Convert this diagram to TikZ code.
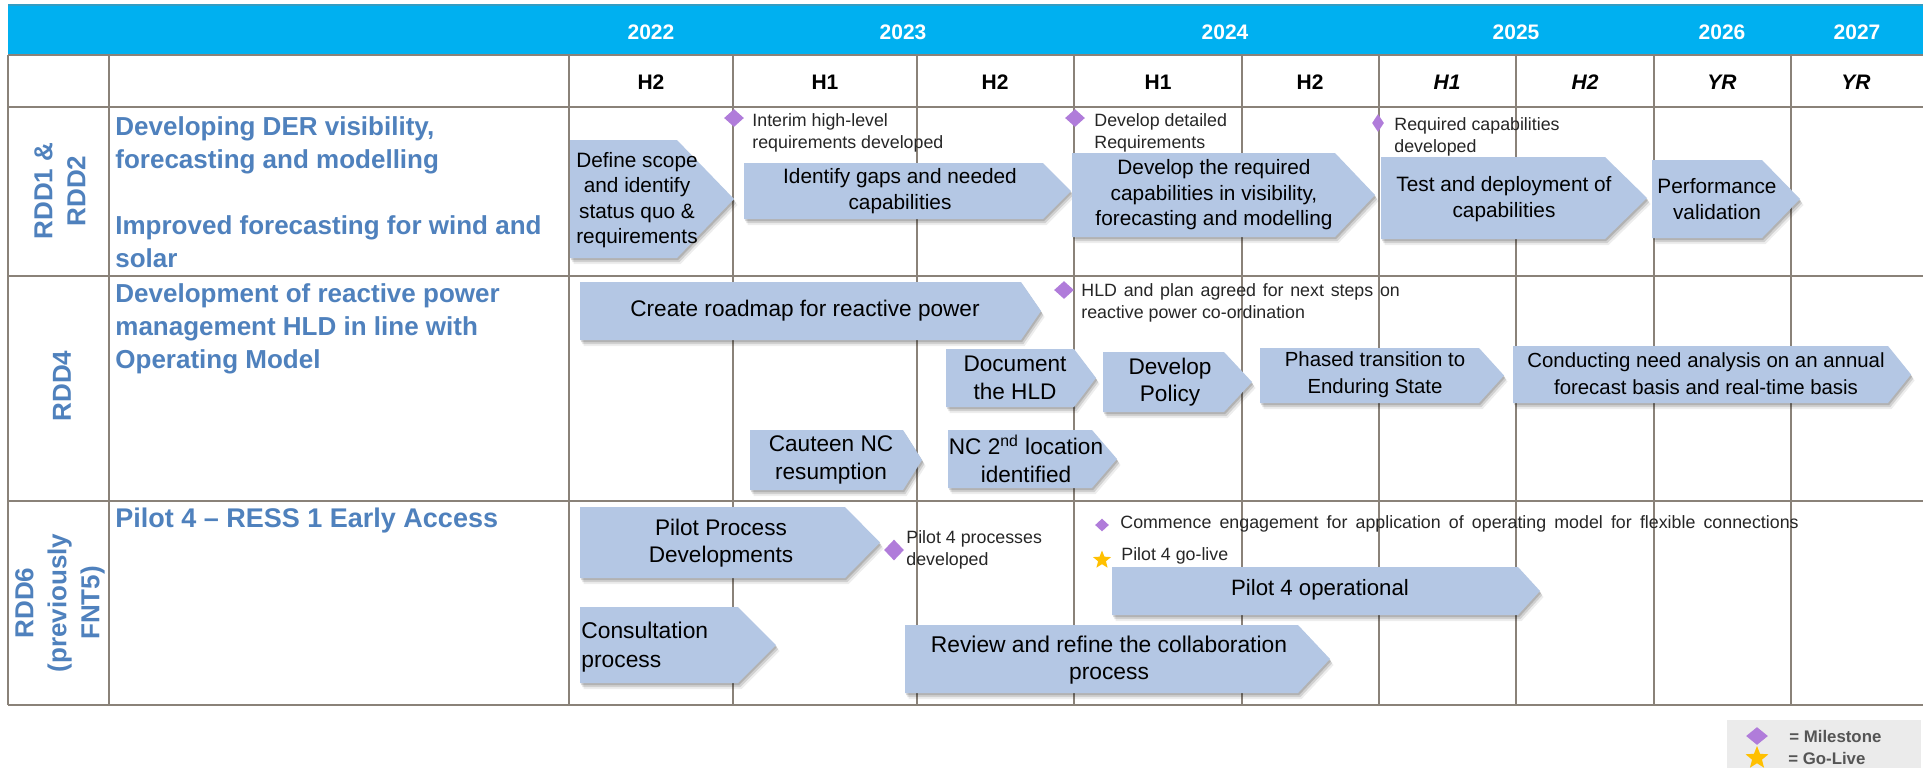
\documentclass[tikz,border=0pt]{standalone}
\usepackage{fontspec}
\setmainfont{Liberation Sans}
\usetikzlibrary{shapes.geometric}
\definecolor{hdr}{HTML}{00B0F0}
\definecolor{gridc}{HTML}{8A8279}
\definecolor{ttl}{HTML}{4F81BD}
\definecolor{chevc}{HTML}{B4C7E4}
\definecolor{mile}{HTML}{B07CDA}
\definecolor{gold}{HTML}{FFC000}
\definecolor{legbg}{HTML}{EBEBEB}
\definecolor{legtx}{HTML}{555555}
% #1 left, #2 top, #3 end of straight part, #4 bottom, #5 tip
\newcommand{\chevshape}[5]{%
  \foreach \d/\o in {2/0.14,4/0.12,6/0.07}{%
    \fill[black,opacity=\o] ({#1+\d*0.6},{#2+\d}) -- ({#3+\d*0.6},{#2+\d}) -- ({#5+\d*0.6},{(#2+#4)/2+\d}) -- ({#3+\d*0.6},{#4+\d}) -- ({#1+\d*0.6},{#4+\d}) -- cycle;}
  \fill[chevc] (#1,#2) -- (#3,#2) -- (#5,{(#2+#4)/2}) -- (#3,#4) -- (#1,#4) -- cycle;
}
\begin{document}
\begin{tikzpicture}[x=0.5pt,y=-0.5pt,
  gridline/.style={draw=gridc, line width=1.3pt},
  chevtext/.style={align=center, inner sep=0pt, font=\fontsize{10.4}{12.7}\selectfont, text=black},
  big/.style={font=\fontsize{11.3}{13.8}\selectfont},
  mtext/.style={align=left, inner sep=0pt, anchor=west, font=\fontsize{8.9}{11}\selectfont, text=black!85},
  mstone/.style={diamond, fill=mile, inner sep=0pt, minimum width=10pt, minimum height=9pt},
  golive/.style={star, star points=5, star point ratio=2.3, fill=gold, inner sep=0pt, minimum size=9.5pt},
  yrlbl/.style={font=\bfseries\fontsize{10.5}{12}\selectfont, text=white, inner sep=0pt},
  hlbl/.style={font=\bfseries\fontsize{10.5}{12}\selectfont, text=black, inner sep=0pt},
  rowttl/.style={align=left, anchor=west, inner sep=0pt, font=\bfseries\fontsize{13}{16.5}\selectfont, text=ttl},
  rowid/.style={align=center, rotate=90, inner sep=0pt, font=\bfseries\fontsize{13}{16.5}\selectfont, text=ttl},
  legtext/.style={anchor=west, inner sep=0pt, font=\bfseries\fontsize{8.4}{10}\selectfont, text=legtx},
]
\useasboundingbox (0,0) rectangle (1923,768);
\fill[white] (0,0) rectangle (1923,768);
% header band
\fill[hdr] (8,5) rectangle (1923,55);
\draw[hdr!60!gray, line width=0.6pt] (8,5) -- (1923,5);
% grid
\foreach \yy in {55,107,276,501,705} {\draw[gridline] (8,\yy) -- (1923,\yy);}
\foreach \xx in {8,109,569,733,917,1074,1242,1379,1516,1654,1791} {\draw[gridline] (\xx,55) -- (\xx,705);}
% year labels
\node[yrlbl] (y22) at (651,32) {2022};
\node[yrlbl] (y23) at (903,32) {2023};
\node[yrlbl] (y24) at (1225,32) {2024};
\node[yrlbl] (y25) at (1516,32) {2025};
\node[yrlbl] (y26) at (1722,32) {2026};
\node[yrlbl] (y27) at (1857,32) {2027};
% half labels
\node[hlbl] (h1) at (651,82) {H2};
\node[hlbl] (h2) at (825,82) {H1};
\node[hlbl] (h3) at (995,82) {H2};
\node[hlbl] (h4) at (1158,82) {H1};
\node[hlbl] (h5) at (1310,82) {H2};
\node[hlbl] (h6) at (1447,82) {\itshape H1};
\node[hlbl] (h7) at (1585,82) {\itshape H2};
\node[hlbl] (h8) at (1722,82) {\itshape YR};
\node[hlbl] (h9) at (1856,82) {\itshape YR};
% row ids
\node[rowid] (r1) at (60,191) {RDD1 \&\\RDD2};
\node[rowid] (r2) at (62,386) {RDD4};
\node[rowid] (r3) at (60,603) {RDD6\\(previously\\FNT5)};
% row titles
\node[rowttl] (t1) at (115,192) {Developing DER visibility,\\forecasting and modelling\\\mbox{}\\Improved forecasting for wind and\\solar};
\node[rowttl] (t2) at (115,329) {Development of reactive power\\management HLD in line with\\Operating Model};
\node[rowttl, font=\bfseries\fontsize{13.5}{16.5}\selectfont] (t3) at (115,521) {Pilot 4 -- RESS 1 Early Access};
% row 1 chevrons
\chevshape{570}{140}{677}{258}{734}
\node[chevtext] (a1) at (637,200) {Define scope\\and identify\\status quo \&\\requirements};
\chevshape{744}{163}{1043}{219}{1071}
\node[chevtext] (a2) at (900,191) {Identify gaps and needed\\capabilities};
\chevshape{1072}{153}{1335}{237}{1375}
\node[chevtext] (a3) at (1214,195) {Develop the required\\capabilities in visibility,\\forecasting and modelling};
\chevshape{1381}{157}{1605}{239}{1647}
\node[chevtext] (a4) at (1504,199) {Test and deployment of\\capabilities};
\chevshape{1652}{160}{1762}{238}{1800}
\node[chevtext] (a5) at (1717,199) {Performance\\validation};
% row 2 chevrons
\chevshape{580}{282}{1021}{340}{1041}
\node[chevtext, big] (b1) at (805,311) {Create roadmap for reactive power};
\chevshape{946}{349}{1074}{407}{1096}
\node[chevtext, big] (b2) at (1015,378) {Document\\the HLD};
\chevshape{1103}{352}{1224}{412}{1252}
\node[chevtext, big] (b3) at (1170,382) {Develop\\Policy};
\chevshape{1260}{348}{1479}{403}{1504}
\node[chevtext, font=\fontsize{10.2}{13.4}\selectfont] (b4) at (1375,375) {Phased transition to\\Enduring State};
\chevshape{1513}{346}{1888}{403}{1911}
\node[chevtext, font=\fontsize{10.2}{13.4}\selectfont] (b5) at (1706,374) {Conducting need analysis on an annual\\forecast basis and real-time basis};
\chevshape{750}{430}{903}{490}{922}
\node[chevtext, big] (b6) at (831,460) {Cauteen NC\\resumption};
\chevshape{948}{430}{1092}{488}{1117}
\node[chevtext, big] (b7) at (1026,459) {NC 2\textsuperscript{nd} location\\identified};
% row 3 chevrons
\chevshape{580}{507}{845}{578}{880}
\node[chevtext, big] (c1) at (721,543) {Pilot Process\\Developments};
\chevshape{580}{607}{738}{683}{776}
\node[chevtext, align=left, anchor=west, font=\fontsize{11.4}{14.5}\selectfont] (c2) at (581,647) {Consultation\\process};
\chevshape{905}{625}{1298}{693}{1330}
\node[chevtext, font=\fontsize{11.4}{13.8}\selectfont] (c3) at (1109,660) {Review and refine the collaboration\\process};
\chevshape{1112}{567}{1518}{615}{1540}
\node[chevtext, font=\fontsize{11.1}{13}\selectfont] (c4) at (1320,590) {Pilot 4 operational};
% milestones
\node[mstone] (m1) at (734,118) {};
\node[mtext] (m1t) at (752,133) {Interim high-level\\requirements developed};
\node[mstone] (m2) at (1075,118) {};
\node[mtext] (m2t) at (1094,133) {Develop detailed\\Requirements};
\node[mstone, minimum width=6pt] (m3) at (1378,123) {};
\node[mtext] (m3t) at (1394,137) {Required capabilities\\developed};
\node[mstone] (m4) at (1064,290) {};
\node[mtext] (m4t) at (1081,303) {\spaceskip=0.38em HLD and plan agreed for next steps on\\reactive power co-ordination};
\node[mstone, minimum height=10.5pt] (m5) at (894,550) {};
\node[mtext] (m5t) at (906,550) {Pilot 4 processes\\developed};
\node[mstone, minimum width=7pt, minimum height=6.5pt] (m6) at (1102,525) {};
\node[mtext] (m6t) at (1120,524) {\spaceskip=0.46em Commence engagement for application of operating model for flexible connections};
\node[golive] (g1) at (1102,560) {};
\node[mtext] (g1t) at (1121,556) {Pilot 4 go-live};
% legend
\fill[legbg] (1727,720) rectangle (1921,768);
\node[mstone, minimum width=11pt, minimum height=9pt] (lm) at (1757,736) {};
\node[golive, minimum size=12pt] (lg) at (1757,758) {};
\node[legtext] (lmt) at (1789,736) {= Milestone};
\node[legtext] (lgt) at (1788,758) {= Go-Live};
\end{tikzpicture}
\end{document}
